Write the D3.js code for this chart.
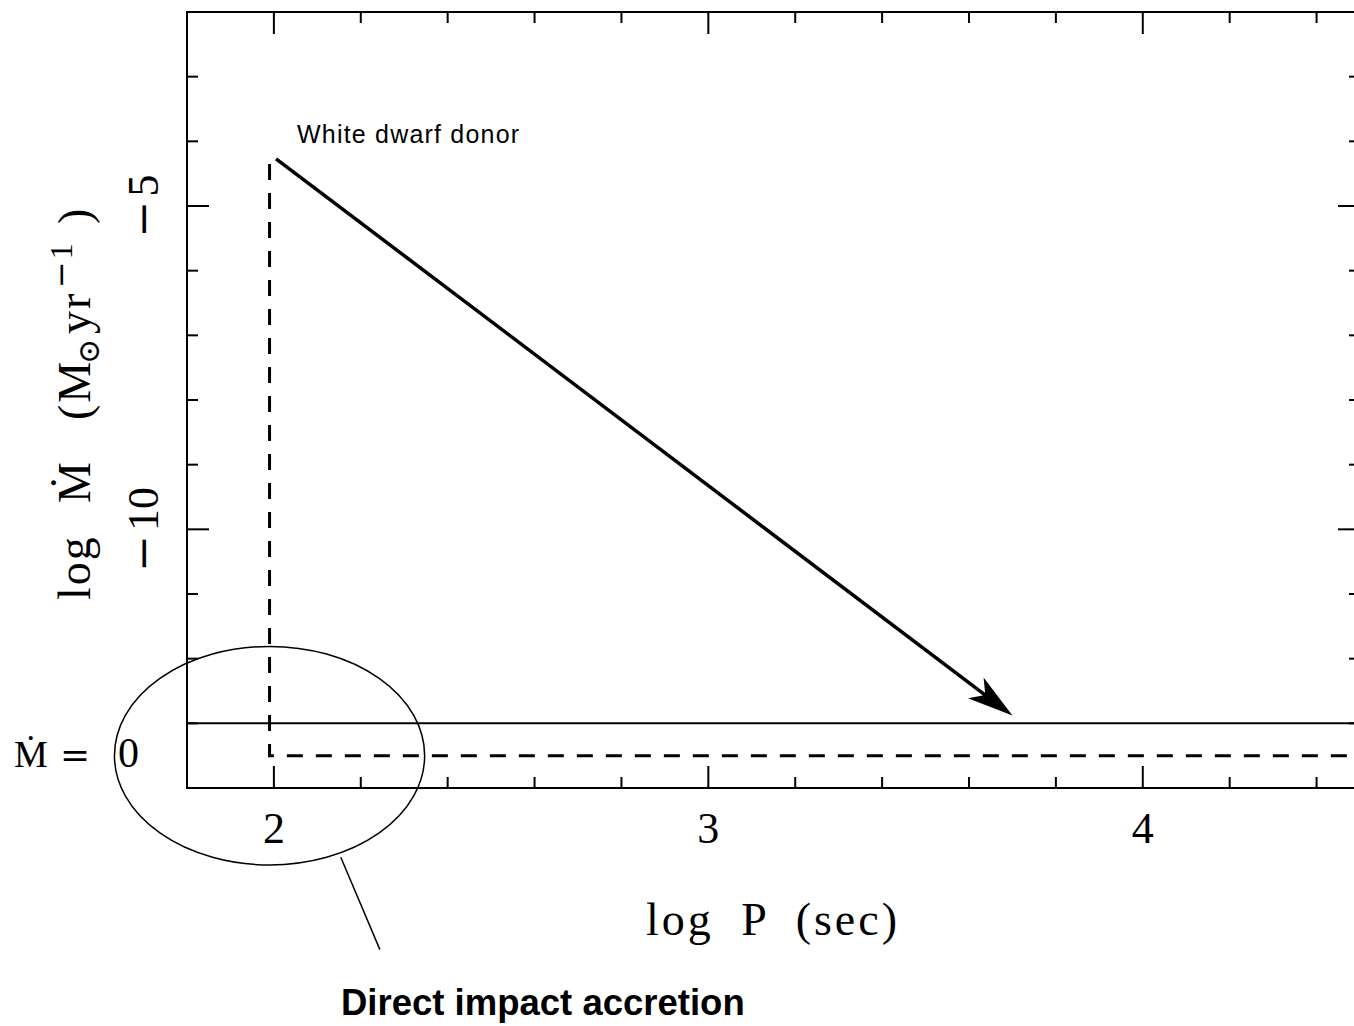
<!DOCTYPE html>
<html>
<head>
<meta charset="utf-8">
<script src="https://cdn.jsdelivr.net/npm/d3@7.9.0/dist/d3.min.js"></script>
<style>
  html, body { margin: 0; padding: 0; background: #fff; }
  svg { display: block; }
  .serif { font-family: "Liberation Serif", "DejaVu Serif", serif; fill: #000; }
  .sans { font-family: "Liberation Sans", Arial, sans-serif; fill: #000; }
  .minus { font-family: "DejaVu Serif", serif; }
</style>
</head>
<body>
<svg id="chart" width="1354" height="1026"></svg>
<script>
// axis ticks (log P, log Mdot)
const xMajor = [2, 3, 4];
const xMinor = [2.2, 2.4, 2.6, 2.8, 3.2, 3.4, 3.6, 3.8, 4.2, 4.4];
const yMajor = [-5, -10];
const yMinor = [-3, -4, -6, -7, -8, -9, -11, -12, -13];

// evolution track of a white dwarf donor
const arrowTrack = [[2.005, -4.27], [3.70, -12.88]];
// dashed path: onset at P ~ 100 s, then Mdot = 0
const dashedTrack = [[1.99, -4.35], [1.99, -13.5], [4.5, -13.5]];
// reference line
const zeroLine = [[1.8, -13], [4.5, -13]];
// "direct impact" ellipse (centre, half-widths in data units) and leader line
const ellipseCentre = [1.99, -13.5];
const ellipseRadius = [0.357, 1.69];
const leader = [[2.154, -15.07], [2.244, -16.5]];

const svg = d3.select("#chart");

const x = d3.scaleLinear().domain([1.8, 4.5]).range([187, 1360]);
const y = d3.scaleLinear().domain([-14, -2]).range([788, 12]);

const line = d3.line().x(d => x(d[0])).y(d => y(d[1]));

// frame
svg.append("rect")
  .attr("x", x(1.8)).attr("y", y(-2))
  .attr("width", x(4.5) - x(1.8)).attr("height", y(-14) - y(-2))
  .attr("fill", "none").attr("stroke", "#000").attr("stroke-width", 2);

// ticks on all four sides
const tk = svg.append("g").attr("stroke", "#000").attr("stroke-width", 2);
function xTicks(vals, len) {
  vals.forEach(v => {
    tk.append("line").attr("x1", x(v)).attr("x2", x(v))
      .attr("y1", y(-14)).attr("y2", y(-14) - len);
    tk.append("line").attr("x1", x(v)).attr("x2", x(v))
      .attr("y1", y(-2)).attr("y2", y(-2) + len);
  });
}
function yTicks(vals, len) {
  vals.forEach(v => {
    tk.append("line").attr("y1", y(v)).attr("y2", y(v))
      .attr("x1", x(1.8)).attr("x2", x(1.8) + len);
    tk.append("line").attr("y1", y(v)).attr("y2", y(v))
      .attr("x1", x(4.5)).attr("x2", x(4.5) - len);
  });
}
xTicks(xMajor, 22);
xTicks(xMinor, 11);
yTicks(yMajor, 22);
yTicks(yMinor, 11);

// tick labels
svg.selectAll(".xlab").data(xMajor).join("text")
  .attr("class", "serif")
  .attr("x", d => x(d)).attr("y", 843)
  .attr("text-anchor", "middle")
  .attr("font-size", 44)
  .text(d => d);

svg.selectAll(".ylab").data(yMajor).join("text")
  .attr("class", "serif")
  .attr("transform", d => `translate(158,${y(d)}) rotate(-90)`)
  .attr("text-anchor", "middle")
  .attr("font-size", 44)
  .each(function (d) {
    const t = d3.select(this);
    t.append("tspan").attr("class", "minus").text("\u2212");
    t.append("tspan").attr("dx", 4).text(Math.abs(d));
  });

// axis titles
svg.append("text").attr("class", "serif")
  .attr("x", 773).attr("y", 935)
  .attr("text-anchor", "middle")
  .attr("font-size", 46)
  .attr("letter-spacing", 3)
  .attr("word-spacing", 13)
  .text("log P (sec)");

// y title, rotated; tspan x is minus the screen y where each piece starts
const yt = svg.append("text").attr("class", "serif")
  .attr("transform", "translate(90,0) rotate(-90)")
  .attr("font-size", 46)
  .attr("letter-spacing", 2);
yt.append("tspan").attr("x", -600).text("log");
yt.append("tspan").attr("x", -503).text("\u1E40");
yt.append("tspan").attr("x", -420).text("(M");
yt.append("tspan").attr("x", -364).attr("dy", 9).attr("font-size", 30).text("\u2299");
yt.append("tspan").attr("x", -334).attr("dy", -9).text("yr");
yt.append("tspan").attr("x", -288).attr("dy", -18).attr("font-size", 32).attr("class", "minus").text("\u2212");
yt.append("tspan").attr("font-size", 32).text("1");
yt.append("tspan").attr("x", -224).attr("dy", 18).text(")");

const mz = svg.append("text").attr("class", "serif")
  .attr("y", 767).attr("font-size", 38);
mz.append("tspan").attr("x", 14).text("\u1E40");
mz.append("tspan").attr("x", 60).attr("class", "minus").attr("font-size", 36).text("=");
mz.append("tspan").attr("x", 118).attr("font-size", 42).text("0");

// reference line Mdot = const
svg.append("path").attr("d", line(zeroLine))
  .attr("fill", "none").attr("stroke", "#000").attr("stroke-width", 2);

// dashed track
svg.append("path").attr("d", line(dashedTrack))
  .attr("fill", "none").attr("stroke", "#000").attr("stroke-width", 3)
  .attr("stroke-dasharray", "16,13");

// arrow
const [p0, p1] = arrowTrack.map(d => [x(d[0]), y(d[1])]);
const ang = Math.atan2(p1[1] - p0[1], p1[0] - p0[0]);
const headLen = 46, headW = 13, notch = 34;
const ux = Math.cos(ang), uy = Math.sin(ang);
const back = (l, w) => [p1[0] - ux * l - uy * w, p1[1] - uy * l + ux * w];
svg.append("line")
  .attr("x1", p0[0]).attr("y1", p0[1])
  .attr("x2", p1[0] - ux * notch).attr("y2", p1[1] - uy * notch)
  .attr("stroke", "#000").attr("stroke-width", 3.5);
svg.append("path")
  .attr("d", d3.line()([p1, back(headLen, headW), back(notch, 0), back(headLen, -headW)]) + "Z")
  .attr("fill", "#000");

svg.append("text").attr("class", "sans")
  .attr("x", 297).attr("y", 143)
  .attr("font-size", 25)
  .attr("letter-spacing", 1.2)
  .text("White dwarf donor");

// direct impact ellipse and leader
svg.append("ellipse")
  .attr("cx", x(ellipseCentre[0])).attr("cy", y(ellipseCentre[1]))
  .attr("rx", x(ellipseCentre[0] + ellipseRadius[0]) - x(ellipseCentre[0]))
  .attr("ry", y(ellipseCentre[1] - ellipseRadius[1]) - y(ellipseCentre[1]))
  .attr("fill", "none").attr("stroke", "#000").attr("stroke-width", 1.5);
svg.append("path").attr("d", line(leader))
  .attr("fill", "none").attr("stroke", "#000").attr("stroke-width", 1.5);

svg.append("text").attr("class", "sans")
  .attr("x", 341).attr("y", 1015)
  .attr("font-size", 36.5)
  .attr("font-weight", "bold")
  .text("Direct impact accretion");
</script>
</body>
</html>
